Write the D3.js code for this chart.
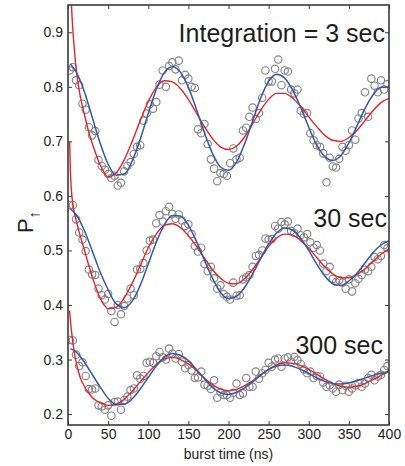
<!DOCTYPE html>
<html>
<head>
<meta charset="utf-8">
<script src="https://cdn.jsdelivr.net/npm/d3@7"></script>
<style>
  html, body { margin: 0; padding: 0; background: #fff; }
  svg { display: block; font-family: "Liberation Sans", Arial, Helvetica, sans-serif; }
</style>
</head>
<body>
<svg id="chart" width="405" height="466"></svg>
<script>
// Burst times (ns) of the measured points, shared by all three integration times
const pointNs = [2,6,10,14,18,22,26,30,34,38,42,46,50,54,58,62,66,70,74,78,82,86,90,94,98,
  102,106,110,114,118,122,126,130,134,138,142,146,150,154,158,162,166,170,174,178,182,186,190,194,198,
  202,206,210,214,218,222,226,230,234,238,242,246,250,254,258,262,266,270,274,278,282,286,290,294,298,
  302,306,310,314,318,322,326,330,334,338,342,346,350,354,358,362,366,370,374,378,382,386,390,394,398];

// Measured P-up, integration = 3 sec
const p3s = [0.830,0.836,0.812,0.803,0.769,0.758,0.726,0.711,0.719,0.666,
  0.655,0.648,0.640,0.633,0.637,0.619,0.624,0.645,0.655,0.662,
  0.677,0.690,0.693,0.738,0.751,0.768,0.760,0.772,0.804,0.830,
  0.800,0.838,0.845,0.832,0.848,0.812,0.822,0.815,0.800,0.798,
  0.722,0.715,0.732,0.695,0.667,0.650,0.627,0.642,0.640,0.637,
  0.660,0.687,0.667,0.670,0.720,0.725,0.745,0.762,0.741,0.752,
  0.780,0.830,0.810,0.810,0.833,0.850,0.803,0.830,0.828,0.795,
  0.788,0.795,0.756,0.750,0.752,0.715,0.702,0.693,0.690,0.678,
  0.625,0.670,0.654,0.652,0.668,0.690,0.683,0.693,0.720,0.703,
  0.742,0.752,0.790,0.745,0.815,0.802,0.790,0.812,0.795,0.805];

// Measured P-up, integration = 30 sec
const p30s = [0.583,0.583,0.557,0.533,0.520,0.499,0.465,0.456,0.455,0.430,
  0.418,0.410,0.420,0.389,0.369,0.400,0.383,0.398,0.412,0.430,
  0.418,0.465,0.466,0.477,0.500,0.518,0.520,0.550,0.565,0.553,
  0.572,0.580,0.567,0.558,0.566,0.555,0.545,0.548,0.530,0.508,
  0.498,0.505,0.475,0.462,0.470,0.449,0.430,0.436,0.420,0.415,
  0.410,0.441,0.417,0.418,0.447,0.451,0.455,0.470,0.490,0.492,
  0.500,0.522,0.520,0.521,0.545,0.540,0.552,0.548,0.553,0.536,
  0.532,0.540,0.528,0.524,0.530,0.515,0.505,0.510,0.500,0.476,
  0.462,0.470,0.448,0.442,0.446,0.441,0.430,0.447,0.425,0.440,
  0.448,0.455,0.465,0.462,0.470,0.488,0.484,0.490,0.510,0.504];

// Measured P-up, integration = 300 sec
const p300s = [0.336,0.335,0.309,0.288,0.295,0.270,0.246,0.245,0.247,0.216,
  0.214,0.208,0.216,0.197,0.222,0.223,0.208,0.226,0.232,0.244,
  0.247,0.271,0.265,0.270,0.294,0.296,0.294,0.306,0.314,0.304,
  0.300,0.320,0.311,0.302,0.310,0.296,0.284,0.290,0.280,0.266,
  0.267,0.278,0.254,0.252,0.246,0.262,0.230,0.240,0.235,0.235,
  0.230,0.239,0.256,0.235,0.238,0.266,0.250,0.250,0.278,0.265,
  0.275,0.281,0.294,0.287,0.300,0.302,0.287,0.302,0.304,0.296,
  0.305,0.299,0.292,0.282,0.275,0.278,0.266,0.270,0.269,0.258,
  0.250,0.253,0.247,0.241,0.254,0.244,0.252,0.241,0.247,0.253,
  0.257,0.250,0.256,0.266,0.272,0.262,0.269,0.272,0.281,0.288];

// Blue fit curves, sampled at blueNs
const blueNs = [3,10,20,30,40,50,60,70,80,90,100,110,120,130,140,150,160,170,180,190,200,
  210,220,230,240,250,260,270,280,290,300,310,320,330,340,350,360,370,380,390,400];
const blue3s = [0.842,0.828,0.793,0.745,0.697,0.658,0.638,0.640,0.664,0.704,0.751,0.795,0.826,0.837,0.827,0.799,0.759,0.716,0.678,0.653,0.647,
  0.662,0.695,0.737,0.779,0.810,0.823,0.816,0.794,0.762,0.726,0.693,0.672,0.665,0.674,0.697,0.728,0.760,0.785,0.799,0.799];
const blue30s = [0.576,0.566,0.538,0.500,0.461,0.428,0.402,0.395,0.407,0.436,0.475,0.515,0.547,0.564,0.563,0.546,0.517,0.482,0.449,0.423,0.412,
  0.416,0.432,0.457,0.485,0.512,0.532,0.541,0.537,0.522,0.500,0.475,0.453,0.439,0.436,0.444,0.458,0.477,0.496,0.510,0.518];
const blue300s = [0.320,0.314,0.296,0.273,0.250,0.229,0.218,0.218,0.228,0.246,0.267,0.288,0.304,0.311,0.308,0.298,0.282,0.265,0.249,0.239,0.236,
  0.240,0.248,0.259,0.271,0.282,0.288,0.290,0.2875,0.282,0.2745,0.2665,0.260,0.256,0.255,0.257,0.261,0.266,0.271,0.275,0.278];

// Red fit curves, sampled at redNs (denser near zero where they rise steeply)
const redNs = [2,3,4,6,8,10,15,20,25,30,35,40,45,50,60,70,80,90,100,110,120,130,140,150,160,170,180,190,200,
  210,220,230,240,250,260,270,280,290,300,310,320,330,340,350,360,370,380,390,400];
const red3s = [1.05,1.0,0.96,0.905,0.867,0.835,0.785,0.752,0.722,0.697,0.676,0.657,0.643,0.635,0.642,0.666,0.700,0.738,0.773,0.799,0.811,0.809,0.797,0.777,0.752,0.727,0.705,0.690,0.685,
  0.691,0.708,0.732,0.757,0.777,0.788,0.788,0.779,0.764,0.745,0.727,0.711,0.702,0.700,0.707,0.720,0.738,0.756,0.771,0.779];
const red30s = [0.70,0.645,0.615,0.585,0.568,0.556,0.528,0.503,0.477,0.453,0.431,0.413,0.400,0.393,0.396,0.413,0.440,0.472,0.505,0.530,0.546,0.549,0.542,0.527,0.508,0.486,0.465,0.449,0.440,
  0.439,0.448,0.465,0.486,0.507,0.523,0.530,0.528,0.518,0.504,0.487,0.470,0.457,0.450,0.450,0.456,0.466,0.480,0.493,0.503];
const red300s = [0.39,0.372,0.357,0.333,0.312,0.296,0.268,0.252,0.240,0.231,0.225,0.221,0.218,0.216,0.218,0.227,0.242,0.259,0.276,0.291,0.301,0.304,0.300,0.292,0.280,0.266,0.254,0.246,0.243,
  0.245,0.252,0.261,0.272,0.282,0.290,0.294,0.293,0.289,0.282,0.273,0.264,0.256,0.251,0.249,0.251,0.256,0.263,0.271,0.278];

// Axis ticks and annotation labels
const xTicks = [0, 50, 100, 150, 200, 250, 300, 350, 400];
const yTicks = [0.2, 0.3, 0.4, 0.5, 0.6, 0.7, 0.8, 0.9];
const seriesLabels = ["Integration = 3 sec", "30 sec", "300 sec"];

const svg = d3.select("#chart");
const W = 405, H = 466;
const m = { left: 68, right: 16, top: 5, bottom: 41 };
const iw = W - m.left - m.right, ih = H - m.top - m.bottom;

const x = d3.scaleLinear().domain([0, 400]).range([0, iw]);
const y = d3.scaleLinear().domain([0.18, 0.95]).range([ih, 0]);

const g = svg.append("g").attr("transform", `translate(${m.left},${m.top})`);

g.append("defs").append("clipPath").attr("id", "plotClip")
  .append("rect").attr("width", iw).attr("height", ih);

const frameColor = "#3a3a3a";
const textColor = "#1e1e1e";

// Axes with inward ticks on all four sides
function styleAxis(sel) {
  sel.select(".domain").remove();
  sel.selectAll(".tick line").attr("stroke", frameColor).attr("stroke-width", 1);
  sel.selectAll(".tick text").attr("fill", textColor).attr("font-size", 14)
    .attr("font-family", "\"Liberation Sans\", Arial, sans-serif");
}
g.append("g").attr("transform", `translate(0,${ih})`)
  .call(d3.axisBottom(x).tickValues(xTicks).tickSizeInner(-4).tickSizeOuter(0).tickPadding(4).tickFormat(d3.format("d")))
  .call(styleAxis);
g.append("g")
  .call(d3.axisTop(x).tickValues(xTicks).tickSizeInner(-4).tickSizeOuter(0).tickFormat(""))
  .call(styleAxis);
g.append("g")
  .call(d3.axisLeft(y).tickValues(yTicks).tickSizeInner(-4).tickSizeOuter(0).tickPadding(5).tickFormat(d3.format(".1f")))
  .call(styleAxis);
g.append("g").attr("transform", `translate(${iw},0)`)
  .call(d3.axisRight(y).tickValues(yTicks).tickSizeInner(-4).tickSizeOuter(0).tickFormat(""))
  .call(styleAxis);

const plot = g.append("g").attr("clip-path", "url(#plotClip)");

// Measured points
[p3s, p30s, p300s].forEach(vals => {
  plot.append("g").selectAll("circle")
    .data(vals.map((v, i) => [pointNs[i], v]))
    .join("circle")
    .attr("cx", d => x(d[0])).attr("cy", d => y(d[1])).attr("r", 3.7)
    .attr("fill", "none").attr("stroke", "#858585").attr("stroke-width", 1.15);
});

const line = d3.line().x(d => x(d[0])).y(d => y(d[1])).curve(d3.curveMonotoneX);

// Red fits
[red3s, red30s, red300s].forEach(vals => {
  plot.append("path").datum(vals.map((v, i) => [redNs[i], v]))
    .attr("d", line).attr("fill", "none").attr("stroke", "#e8232b").attr("stroke-width", 1.4);
});
// Blue fits
[blue3s, blue30s, blue300s].forEach(vals => {
  plot.append("path").datum(vals.map((v, i) => [blueNs[i], v]))
    .attr("d", line).attr("fill", "none").attr("stroke", "#3358b0").attr("stroke-width", 1.5);
});

// Frame
g.append("rect").attr("width", iw).attr("height", ih)
  .attr("fill", "none").attr("stroke", frameColor).attr("stroke-width", 1.6);

// Series labels
const labelPos = [[385, 42], [387, 227], [383, 354]];
seriesLabels.forEach((t, i) => {
  svg.append("text").attr("x", labelPos[i][0]).attr("y", labelPos[i][1])
    .attr("text-anchor", "end").attr("font-size", 25).attr("fill", textColor).text(t);
});

// Axis titles
svg.append("text").attr("x", m.left + iw / 2).attr("y", 459)
  .attr("text-anchor", "middle").attr("font-size", 14).attr("fill", textColor)
  .text("burst time (ns)");

const yl = svg.append("text")
  .attr("transform", "translate(33,222) rotate(-90)")
  .attr("text-anchor", "middle").attr("font-size", 22).attr("fill", textColor);
yl.append("tspan").text("P");
yl.append("tspan").attr("font-size", 15).attr("dy", 6).text("↑");
</script>
</body>
</html>
